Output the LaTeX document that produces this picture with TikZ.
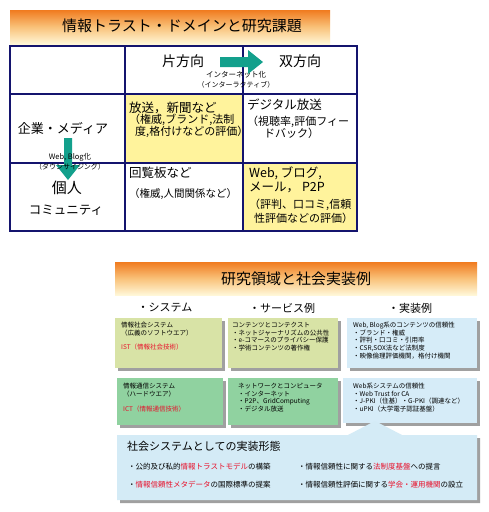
\documentclass[tikz,border=0pt]{standalone}
\usepackage{fontspec}
\setmainfont{Noto Sans CJK JP}
\usetikzlibrary{shadows}
\definecolor{navy}{HTML}{14146E}
\definecolor{cellyel}{HTML}{FFF39C}
\definecolor{arrteal}{HTML}{13A08C}
\definecolor{bannerO}{HTML}{F07B1F}
\definecolor{bannerM}{HTML}{F9C27A}
\definecolor{bannerY}{HTML}{FFF7D8}
\definecolor{boxolive}{HTML}{D8E3A6}
\definecolor{boxgreen}{HTML}{90D2A0}
\definecolor{boxblue}{HTML}{D6ECF8}
\definecolor{callblue}{HTML}{D4EBF6}
\definecolor{redtxt}{HTML}{E8102A}
\definecolor{shadowgray}{HTML}{A0A0A0}
\begin{document}
\begin{tikzpicture}[x=1pt,y=-1pt,
  txt/.style={inner sep=0pt, anchor=west, text=black},
  ctr/.style={inner sep=0pt, anchor=center, text=black},
  ttl/.style={ctr, font=\fontsize{15}{18}\selectfont},
  big/.style={font=\fontsize{14}{17}\selectfont},
  cmain/.style={font=\fontsize{12.5}{15}\selectfont},
  csub/.style={font=\fontsize{11}{13}\selectfont},
  lbl/.style={ctr, font=\fontsize{7.5}{9}\selectfont},
  boxsh/.style={draw=none, inner sep=0pt, anchor=north west,
    drop shadow={shadow xshift=3pt, shadow yshift=-3pt, fill=shadowgray, opacity=1}},
  boxtxt/.style={inner sep=0pt, anchor=north west, align=left,
    font=\fontsize{6.5}{7.6}\selectfont},
  fatarrow/.style={fill=arrteal, draw=none},
]
\useasboundingbox (0,0) rectangle (488,512);
\fill[white] (0,0) rectangle (488,512);

% ---------- top banner ----------
\shade[top color=bannerO, bottom color=bannerY, middle color=bannerM] (10,10) rectangle (330,44);
\node[ttl] (title1) at (182,26) {情報トラスト・ドメインと研究課題};

% ---------- table ----------
\fill[cellyel] (125,94) rectangle (243,163);
\fill[cellyel] (243,163) rectangle (357,231);
\draw[navy, line width=1.3pt] (125,46) -- (125,231) (243,46) -- (243,231)
  (10,94) -- (357,94) (10,163) -- (357,163);
\draw[navy, line width=1.8pt] (10,46) rectangle (357,231);

% arrows
\fill[fatarrow] (220,57) -- (248,57) -- (248,50) -- (263,62) -- (248,74) -- (248,67) -- (220,67) -- cycle;
\fill[fatarrow] (64,138) -- (72,138) -- (72,165) -- (80,165) -- (68,180) -- (56,165) -- (64,165) -- cycle;

% header
\node[ctr, big] (h1) at (183,61) {片方向};
\node[ctr, big] (h2) at (300,61) {双方向};
\node[lbl] (inet1) at (236,75) {インターネット化};
\node[lbl, font=\fontsize{7}{9}\selectfont] (inet2) at (236,85) {（インターラクティブ）};

% row labels
\node[ctr, font=\fontsize{13}{15}\selectfont] (r1) at (63,128) {企業・メディア};
\node[ctr, font=\fontsize{15}{18}\selectfont] (r2a) at (67,188) {個人};
\node[ctr, cmain] (r2b) at (66,210) {コミュニティ};
\node[lbl] (web1) at (70,157) {Web, Blog化};
\node[lbl, font=\fontsize{7}{9}\selectfont] (web2) at (70,167) {（ダウンサイジング）};

% cells
\node[txt, cmain] (c11a) at (129,108) {放送，新聞など};
\node[txt, csub] (c11b) at (129,120) {（権威,ブランド,法制};
\node[txt, csub] (c11c) at (135,132) {度,格付けなどの評価）};

\node[txt, cmain] (c12a) at (247,105) {デジタル放送};
\node[txt, csub] (c12b) at (247,122) {（視聴率,評価フィー};
\node[txt, csub] (c12c) at (264,133) {ドバック）};

\node[txt, cmain] (c21a) at (129,173) {回覧板など};
\node[txt, font=\fontsize{10.5}{13}\selectfont] (c21b) at (129,194) {（権威,人間関係など）};

\node[txt, cmain] (c22a) at (249,173) {Web, ブログ,};
\node[txt, cmain] (c22b) at (249,187) {メール， P2P};
\node[txt, csub] (c22c) at (249,205) {（評判、口コミ,信頼};
\node[txt, csub] (c22d) at (254,218) {性評価などの評価）};

% ---------- bottom banner ----------
\shade[top color=bannerO, bottom color=bannerY, middle color=bannerM] (115,262) rectangle (477,295);
\node[ttl] (title2) at (296,279) {研究領域と社会実装例};

\node[ctr, font=\fontsize{11}{13}\selectfont] (s1) at (165,308) {・システム};
\node[ctr, font=\fontsize{11}{13}\selectfont] (s2) at (282,308) {・サービス例};
\node[ctr, font=\fontsize{11}{13}\selectfont] (s3) at (410,308) {・実装例};

% boxes row 1
\node[boxsh, fill=boxolive, minimum width=107pt, minimum height=50pt] (bA) at (115,318) {};
\node[boxsh, fill=boxolive, minimum width=110pt, minimum height=50pt] (bB) at (228,318) {};
\node[boxsh, fill=boxblue, minimum width=130pt, minimum height=50pt] (bC) at (347,318) {};
% boxes row 2
\node[boxsh, fill=boxgreen, minimum width=106pt, minimum height=47pt] (bD) at (117,378) {};
\node[boxsh, fill=boxgreen, minimum width=110pt, minimum height=47pt] (bE) at (228,378) {};
\node[boxsh, fill=boxblue, minimum width=134pt, minimum height=45pt] (bF) at (343,378) {};

\node[boxtxt] (tA) at ([shift={(6,4)}]bA.north west)
  {情報社会システム\\（広義のソフトウエア）\\[6.5pt]\textcolor{redtxt}{IST（情報社会技術）}};
\node[boxtxt] (tB) at ([shift={(4,4)}]bB.north west)
  {コンテンツとコンテクスト\\・ネットジャーナリズムの公共性\\・e-コマースのプライバシー保護\\・学術コンテンツの著作権};
\node[boxtxt] (tC) at ([shift={(6,4)}]bC.north west)
  {Web, Blog系のコンテンツの信頼性\\ ・ブランド・権威\\ ・評判・口コミ・引用率\\ ・CSR,SOX法など法制度\\ ・映像倫理評価機関，格付け機関};
\node[boxtxt] (tD) at ([shift={(6,5)}]bD.north west)
  {情報通信システム\\ （ハードウエア）\\[8pt]\textcolor{redtxt}{ICT（情報通信技術）}};
\node[boxtxt] (tE) at ([shift={(10,5)}]bE.north west)
  {ネットワークとコンピュータ\\ ・インターネット\\ ・P2P、GridComputing\\ ・デジタル放送};
\node[boxtxt] (tF) at ([shift={(10,5)}]bF.north west)
  {Web系システムの信頼性\\ ・Web Trust for CA\\ ・J-PKI（住基）・G-PKI（調達など）\\ ・uPKI（大学電子認証基盤）};

% ---------- callout ----------
\path[fill=callblue, drop shadow={shadow xshift=3pt, shadow yshift=-3pt, fill=shadowgray, opacity=1}]
  (117,435) -- (348,435) -- (375,421) -- (402,435) -- (477,435) -- (477,500) -- (117,500) -- cycle;
\node[txt, font=\fontsize{11}{13}\selectfont] (ctitle) at (127,446) {社会システムとしての実装形態};
\node[txt, font=\fontsize{7.5}{9}\selectfont] (p1) at (128,467)
  {・公的及び私的\textcolor{redtxt}{情報トラストモデル}の構築};
\node[txt, font=\fontsize{7.5}{9}\selectfont] (p2) at (298,467)
  {・情報信頼性に関する\textcolor{redtxt}{法制度基盤}への提言};
\node[txt, font=\fontsize{7.5}{9}\selectfont] (p3) at (128,485)
  {・\textcolor{redtxt}{情報信頼性メタデータ}の国際標準の提案};
\node[txt, font=\fontsize{7.5}{9}\selectfont] (p4) at (298,485)
  {・情報信頼性評価に関する\textcolor{redtxt}{学会・運用機関}の設立};
\end{tikzpicture}
\end{document}
